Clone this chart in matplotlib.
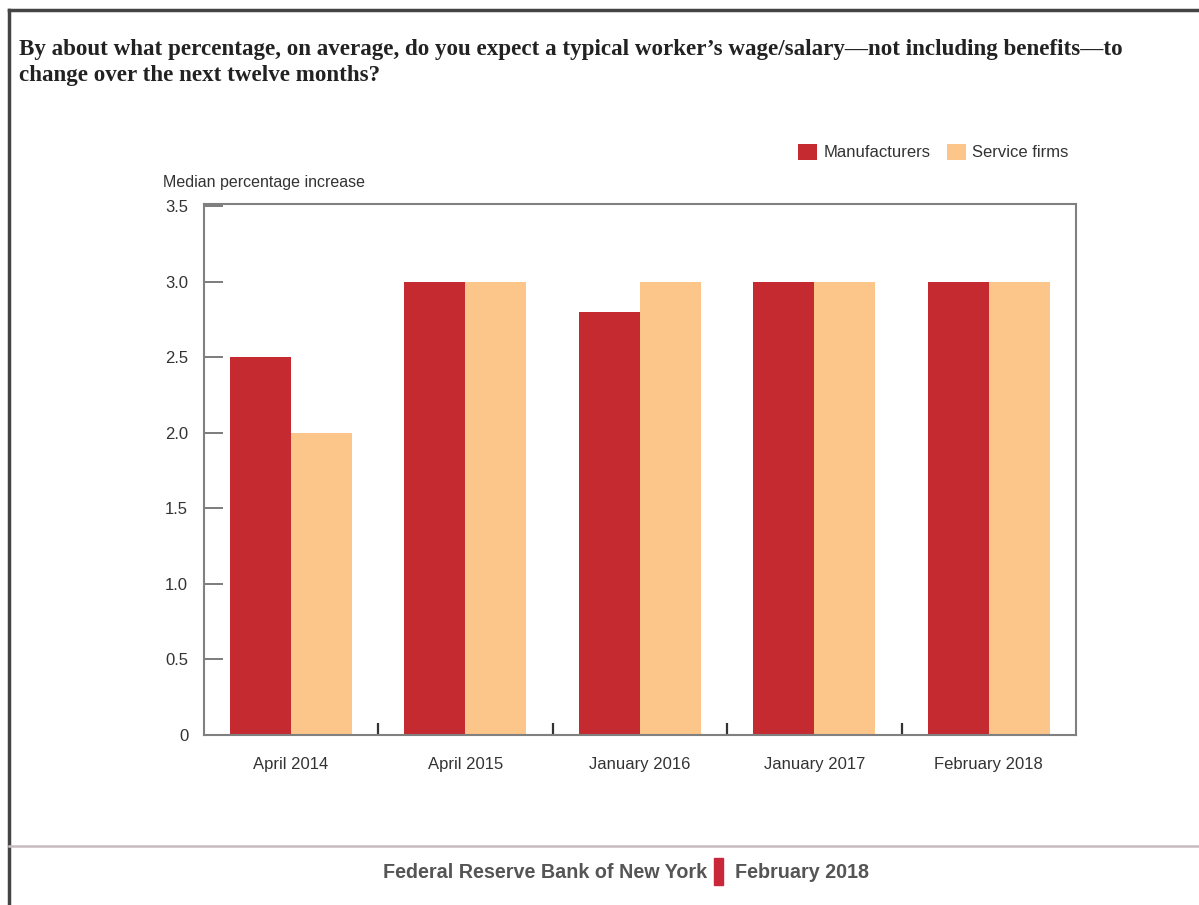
import matplotlib
matplotlib.use("Agg")
import matplotlib.pyplot as plt
from matplotlib.lines import Line2D
from matplotlib.patches import Rectangle
import numpy as np

periods = ["April 2014", "April 2015", "January 2016", "January 2017", "February 2018"]
manufacturers = [2.5, 3.0, 2.8, 3.0, 3.0]
service_firms = [2.0, 3.0, 3.0, 3.0, 3.0]
y_ticks = [0, 0.5, 1.0, 1.5, 2.0, 2.5, 3.0, 3.5]
y_tick_labels = ["0", "0.5", "1.0", "1.5", "2.0", "2.5", "3.0", "3.5"]

sans = "Liberation Sans"
red = "#c62a31"
orange = "#fcc68a"
txt = "#333333"

W, H = 1199, 905
fig = plt.figure(figsize=(W / 100, H / 100), dpi=100)

def fx(px):
    return px / W

def fy(py):
    return 1 - py / H

# outer frame
fig.add_artist(Line2D([fx(9), 1], [fy(10), fy(10)], color="#444444", lw=2.5))
fig.add_artist(Line2D([fx(9), fx(9)], [fy(10), 0], color="#444444", lw=2.5))
# footer rule
fig.add_artist(Line2D([fx(9), 1], [fy(846), fy(846)], color="#c9bcc0", lw=1.8))

# question title
fig.text(fx(19), fy(49), "By about what percentage, on average, do you expect a typical worker\u2019s wage/salary\u2014not including benefits\u2014to",
         family="Liberation Serif", weight="bold", fontsize=16.6, color="#222222",
         va="center", ha="left")
fig.text(fx(19), fy(76), "change over the next twelve months?",
         family="Liberation Serif", weight="bold", fontsize=16.6, color="#222222",
         va="center", ha="left")

ax = fig.add_axes([fx(203.5), fy(735), fx(1076) - fx(203.5), fy(204) - fy(735)])

x = np.arange(len(periods))
w = 0.35
ax.bar(x - w / 2, manufacturers, w, color=red, label="Manufacturers")
ax.bar(x + w / 2, service_firms, w, color=orange, label="Service firms")

ax.set_xlim(-0.5, len(periods) - 0.5)
ax.set_ylim(0, 3.515)
ax.set_yticks(y_ticks)
ax.set_yticklabels(y_tick_labels)
ax.set_xticks(x)
ax.set_xticklabels(periods)
ax.set_xticks(x[:-1] + 0.5, minor=True)
ax.tick_params(axis="x", which="major", length=0, pad=15.5, labelsize=12, labelcolor=txt)
ax.tick_params(axis="x", which="minor", direction="in", length=9, width=1.6, color="#333333")
ax.tick_params(axis="y", direction="in", length=14, width=1.2, color="#666666",
               pad=11, labelsize=12, labelcolor=txt)
for lab in ax.get_xticklabels() + ax.get_yticklabels():
    lab.set_family(sans)
for s in ax.spines.values():
    s.set_color("#808080")
    s.set_linewidth(1.5)

fig.text(fx(163), fy(183), "Median percentage increase", family=sans, fontsize=11.5,
         color=txt, va="center", ha="left")

leg = fig.legend(loc="center right", bbox_to_anchor=(fx(1082), fy(152)), frameon=False,
                 ncol=2, prop={"family": sans, "size": 12}, handlelength=1.15,
                 handleheight=1.15, handletextpad=0.36, columnspacing=1.0,
                 borderpad=0.3)
for t in leg.get_texts():
    t.set_color(txt)

# footer
fig.text(fx(707), fy(872), "Federal Reserve Bank of New York", family=sans, weight="bold",
         fontsize=14.2, color="#555555", ha="right", va="center")
fig.add_artist(Rectangle((fx(714), fy(885)), fx(9), fy(858) - fy(885), color="#c8283a"))
fig.text(fx(735), fy(872), "February 2018", family=sans, weight="bold",
         fontsize=14.2, color="#555555", ha="left", va="center")

fig.savefig("out.png", dpi=100)
